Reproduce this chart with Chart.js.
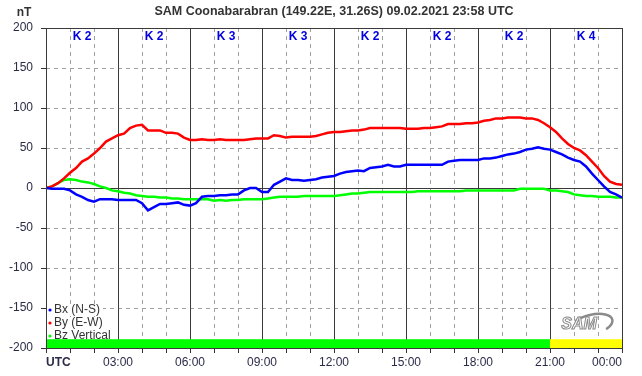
<!DOCTYPE html>
<html>
<head>
<meta charset="utf-8">
<script src="https://cdn.jsdelivr.net/npm/chart.js@4/dist/chart.umd.min.js"></script>
<style>
  html, body { margin: 0; padding: 0; background: #fff; }
  #wrap { width: 642px; height: 376px; }
</style>
</head>
<body>
<div id="wrap"><canvas id="magChart" width="642" height="376"></canvas></div>
<script>
// 15-minute samples, 00:00 .. 24:00 UTC (nT)
const bx = [
  0, -1, -1, -1,   -3, -8, -11, -15,   -17, -14, -14, -14,   -15, -15, -15, -15,
  -19, -28, -24, -20,   -20, -19, -18, -21,   -22, -19, -11, -10,   -10, -9, -9, -8,
  -8, -3, 0, 0,   -5, -5, 4, 8,   12, 10, 10, 9,   10, 11, 13, 14,
  15, 18, 20, 21,   22, 21, 25, 26,   27, 29, 27, 27,   29, 29, 29, 29,
  29, 29, 29, 33,   34, 35, 35, 35,   35, 37, 37, 38,   40, 42, 43, 45,
  48, 49, 51, 49,   48, 45, 42, 38,   35, 33, 27, 18,   10, 2, -5, -8,
  -12
];
const by = [
  0, 2, 6, 12,   19, 25, 33, 37,   43, 50, 58, 62,   66, 68, 75, 78,
  79, 72, 72, 72,   69, 69, 68, 63,   60, 60, 61, 60,   60, 61, 60, 60,
  60, 60, 61, 62,   62, 62, 66, 65,   63, 64, 64, 64,   64, 65, 67, 69,
  70, 70, 71, 72,   72, 73, 75, 75,   75, 75, 75, 75,   74, 74, 74, 75,
  75, 76, 77, 80,   80, 80, 81, 81,   82, 84, 85, 87,   87, 88, 88, 88,
  87, 87, 85, 81,   76, 70, 62, 55,   50, 47, 41, 33,   25, 15, 8, 5,
  4
];
const bz = [
  0, 2, 6, 10,   11, 10, 8, 7,   5, 2, 0, -3,   -4, -6, -7, -9,
  -10, -11, -11, -12,   -12, -13, -13, -14,   -14, -14, -14, -14,   -16, -15, -16, -15,
  -15, -14, -14, -14,   -14, -13, -12, -11,   -11, -11, -11, -10,   -10, -10, -10, -10,
  -10, -9, -8, -7,   -7, -6, -5, -5,   -5, -5, -5, -5,   -5, -5, -4, -4,
  -4, -4, -4, -4,   -4, -4, -3, -3,   -3, -3, -3, -3,   -3, -3, -3, -1,
  -1, -1, -1, -1,   -3, -3, -4, -5,   -8, -9, -10, -10,   -11, -11, -11, -12,
  -12
];
const kIndex = [2, 2, 3, 3, 2, 2, 2, 4];
const seriesNames = ['Bx (N-S)', 'By (E-W)', 'Bz Vertical'];
const seriesColors = ['#0000ff', '#ff0000', '#00ff00'];
const yTicks = [-200, -150, -100, -50, 0, 50, 100, 150, 200];

const times = bx.map((_, i) => i / 4);
const pts = arr => arr.map((v, i) => ({ x: times[i], y: v }));
const FONT = "'Liberation Sans', Arial, sans-serif";
const TXT = '#2b2b48';

const decor = {
  id: 'decor',
  beforeDatasetsDraw(chart) {
    const { ctx, chartArea: a, scales: { x, y } } = chart;
    ctx.save();
    ctx.lineWidth = 1;
    // dashed grid
    ctx.strokeStyle = '#a0a0a0';
    ctx.setLineDash([4, 4]);
    for (let h = 1; h < 24; h++) {
      if (h % 3 === 0) continue;
      const px = Math.round(x.getPixelForValue(h)) + 0.5;
      ctx.beginPath(); ctx.moveTo(px, a.top); ctx.lineTo(px, a.bottom); ctx.stroke();
    }
    yTicks.forEach(v => {
      if (v === 0 || Math.abs(v) === 200) return;
      const py = Math.round(y.getPixelForValue(v)) + 0.5;
      ctx.beginPath(); ctx.moveTo(a.left, py); ctx.lineTo(a.right, py); ctx.stroke();
    });
    // solid lines every 3 h and zero line
    ctx.setLineDash([]);
    ctx.strokeStyle = '#3a3a3a';
    for (let h = 3; h < 24; h += 3) {
      const px = Math.round(x.getPixelForValue(h)) + 0.5;
      ctx.beginPath(); ctx.moveTo(px, a.top); ctx.lineTo(px, a.bottom); ctx.stroke();
    }
    const py0 = Math.round(y.getPixelForValue(0)) + 0.5;
    ctx.beginPath(); ctx.moveTo(a.left, py0); ctx.lineTo(a.right, py0); ctx.stroke();

    // legend (white box behind text, like the original)
    ctx.font = `12px ${FONT}`;
    ctx.textAlign = 'left';
    ctx.textBaseline = 'middle';
    seriesNames.forEach((n, i) => {
      const ly = 310 + i * 13;
      const w = ctx.measureText(n).width;
      ctx.fillStyle = '#fff';
      ctx.fillRect(a.left + 1, ly - 6, w + 10, 12);
    });
    seriesNames.forEach((n, i) => {
      const ly = 310 + i * 13;
      ctx.fillStyle = seriesColors[i];
      ctx.beginPath(); ctx.arc(a.left + 4, ly, 1.6, 0, Math.PI * 2); ctx.fill();
      ctx.fillStyle = '#333';
      ctx.fillText(n, a.left + 8, ly);
    });

    // activity band
    kIndex.forEach((k, i) => {
      const x1 = x.getPixelForValue(i * 3), x2 = x.getPixelForValue(i * 3 + 3);
      const yt = y.getPixelForValue(-189), yb = y.getPixelForValue(-200);
      ctx.fillStyle = k >= 4 ? '#ffff00' : '#00ff00';
      ctx.fillRect(x1, yt, x2 - x1, yb - yt);
    });
    ctx.restore();
  },
  afterDatasetsDraw(chart) {
    const { ctx, chartArea: a, scales: { x } } = chart;
    ctx.save();
    // K labels
    ctx.fillStyle = '#0000e0';
    ctx.font = `bold 12px ${FONT}`;
    ctx.textAlign = 'center';
    ctx.textBaseline = 'middle';
    kIndex.forEach((k, i) => {
      ctx.fillText('K ' + k, x.getPixelForValue(i * 3 + 1.5), a.top + 9);
    });
    // SAM logo
    ctx.strokeStyle = '#8a8a8a';
    ctx.lineWidth = 2.5;
    ctx.beginPath();
    ctx.ellipse(591, 325, 22, 10, -0.25, -2.3, 0.9);
    ctx.stroke();
    ctx.font = `italic bold 16px ${FONT}`;
    ctx.lineWidth = 1;
    ctx.fillStyle = '#fff';
    ctx.fillText('SAM', 579, 325);
    ctx.strokeText('SAM', 579, 325);
    // frame
    ctx.strokeStyle = '#3a3a3a';
    ctx.strokeRect(Math.round(a.left) + 0.5, Math.round(a.top) + 0.5,
      Math.round(a.right - a.left), Math.round(a.bottom - a.top));
    ctx.restore();
  },
  afterDraw(chart) {
    const { ctx } = chart;
    ctx.save();
    ctx.fillStyle = '#333';
    ctx.textBaseline = 'middle';
    ctx.textAlign = 'center';
    ctx.font = `bold 12.5px ${FONT}`;
    ctx.fillText('SAM Coonabarabran (149.22E, 31.26S) 09.02.2021 23:58 UTC', 334, 12);
    ctx.font = `bold 12px ${FONT}`;
    ctx.fillText('nT', 24, 13);
    ctx.restore();
  }
};

new Chart(document.getElementById('magChart'), {
  type: 'line',
  data: {
    datasets: [
      { label: seriesNames[0], data: pts(bx), borderColor: seriesColors[0] },
      { label: seriesNames[1], data: pts(by), borderColor: seriesColors[1] },
      { label: seriesNames[2], data: pts(bz), borderColor: seriesColors[2] },
    ],
  },
  options: {
    responsive: false,
    animation: false,
    layout: { padding: { top: 28, right: 20, left: 0, bottom: 0 } },
    elements: { point: { radius: 0 }, line: { borderWidth: 2.5, tension: 0 } },
    plugins: { legend: { display: false }, tooltip: { enabled: false } },
    scales: {
      x: {
        type: 'linear', min: 0, max: 24,
        afterFit: s => { s.height = 28; },
        grid: { drawOnChartArea: false, tickLength: 5, tickColor: '#333' },
        border: { color: '#333' },
        ticks: {
          stepSize: 1, autoSkip: false, maxRotation: 0, align: 'inner', padding: 2,
          color: TXT,
          font: c => ({ family: FONT, size: 12, weight: c.tick && c.tick.value === 0 ? 'bold' : 'normal' }),
          callback: v => v === 0 ? 'UTC' : (v % 3 === 0 ? String(v % 24).padStart(2, '0') + ':00' : ''),
        },
      },
      y: {
        min: -200, max: 200,
        afterFit: s => { s.width = 46; },
        grid: { drawOnChartArea: false, tickLength: 5, tickColor: '#333' },
        border: { color: '#333' },
        ticks: { stepSize: 50, padding: 8, color: TXT, font: { family: FONT, size: 12 } },
      },
    },
  },
  plugins: [decor],
});
</script>
</body>
</html>
